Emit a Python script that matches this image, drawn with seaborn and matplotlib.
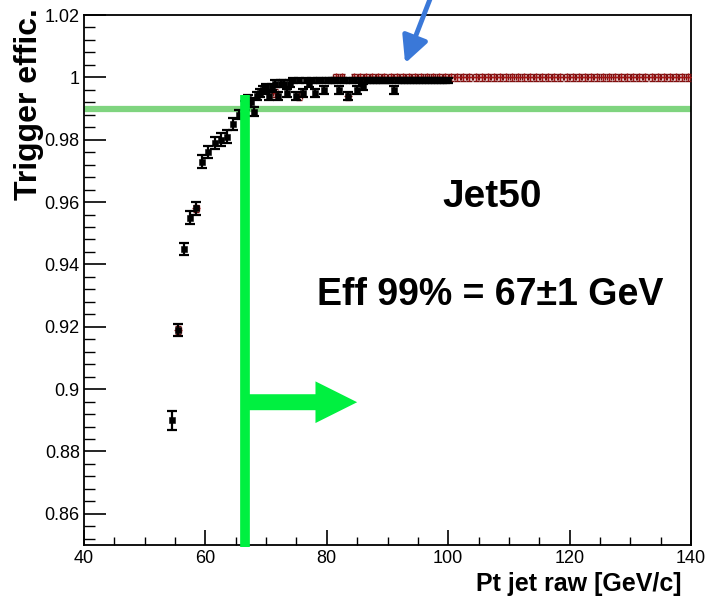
import numpy as np
import pandas as pd
import matplotlib
matplotlib.use("Agg")
import matplotlib.pyplot as plt
from matplotlib.ticker import MultipleLocator, FixedLocator
import seaborn as sns

# ---------------- data ----------------
black_pt = [54.5, 55.5, 56.5, 57.5, 58.5, 59.5, 60.5, 61.5, 62.5, 63.5,
            64.5, 65.5, 66.5, 67.0, 67.5, 68.0, 68.5, 69.0, 69.5, 70.0,
            70.5, 71.0, 71.5, 72.0, 72.5, 73.0, 73.5, 74.0, 74.5, 75.0,
            75.5, 76.0, 76.5, 77.0, 77.5, 78.0, 78.5, 79.0, 79.5, 80.0,
            80.5, 81.0, 81.5, 82.0, 82.5, 83.0, 83.5, 84.0, 84.5, 85.0,
            85.5, 86.0, 86.5, 87.0, 87.5, 88.0, 88.5, 89.0, 89.5, 90.0,
            90.5, 91.0, 91.5, 92.0, 92.5, 93.0, 93.5, 94.0, 94.5, 95.0,
            95.5, 96.0, 96.5, 97.0, 97.5, 98.0, 98.5, 99.0, 99.5, 100.0]
black_eff = [0.890, 0.919, 0.945, 0.955, 0.958, 0.973, 0.976, 0.979, 0.980, 0.981,
             0.985, 0.988, 0.991, 0.993, 0.992, 0.989, 0.994, 0.995, 0.996, 0.997,
             0.994, 0.997, 0.998, 0.994, 0.998, 0.998, 0.995, 0.998, 0.999, 0.994,
             0.999, 0.995, 0.999, 0.998, 0.999, 0.995, 0.999, 0.999, 0.996, 0.999,
             0.999, 0.999, 0.999, 0.996, 0.999, 0.999, 0.994, 0.999, 0.999, 0.996,
             0.999, 0.997, 0.999, 0.999, 0.999, 0.999, 0.999, 0.999, 0.999, 0.999,
             0.999, 0.996, 0.999, 0.999, 0.999, 0.999, 0.999, 0.999, 0.999, 0.999,
             0.999, 0.999, 0.999, 0.999, 0.999, 0.999, 0.999, 0.999, 0.999, 0.999]
black_err = [0.003, 0.002, 0.002, 0.002, 0.002, 0.002, 0.002, 0.002, 0.002, 0.002,
             0.002, 0.0015, 0.0015, 0.0015, 0.0015, 0.0015, 0.0012, 0.0012, 0.0012, 0.001,
             0.0012, 0.001, 0.001, 0.0012, 0.001, 0.001, 0.0012, 0.001, 0.0008, 0.0012,
             0.0008, 0.0012, 0.0008, 0.001, 0.0008, 0.0012, 0.0008, 0.0008, 0.0012, 0.0008,
             0.0008, 0.0008, 0.0008, 0.0012, 0.0008, 0.0008, 0.0012, 0.0008, 0.0008, 0.0012,
             0.0008, 0.001, 0.0008, 0.0008, 0.0008, 0.0008, 0.0008, 0.0008, 0.0008, 0.0008,
             0.0008, 0.0012, 0.0008, 0.0008, 0.0008, 0.0008, 0.0008, 0.0008, 0.0008, 0.0008,
             0.0008, 0.0008, 0.0008, 0.0008, 0.0008, 0.0008, 0.0008, 0.0008, 0.0008, 0.0008]

red_pt = [55.5, 58.5, 71.5, 75.5, 81.5, 82.5, 83.5, 84.5, 85.5, 86.5, 87.5, 88.5,
          89.5, 90.5, 91.5, 92.5, 93.5, 94.5, 95.5, 96.5, 97.5, 98.5, 99.5,
          100.5, 101.5, 102.5, 103.5, 104.5, 105.5, 106.5, 107.5, 108.5, 109.5,
          110.5, 111.5, 112.5, 113.5, 114.5, 115.5, 116.5, 117.5, 118.5, 119.5,
          120.5, 121.5, 122.5, 123.5, 124.5, 125.5, 126.5, 127.5, 128.5, 129.5,
          130.5, 131.5, 132.5, 133.5, 134.5, 135.5, 136.5, 137.5, 138.5, 139.5]
red_eff = [0.919, 0.958, 0.995, 0.994, 1.000, 1.000, 0.994, 1.000, 1.000, 1.000, 1.000, 1.000,
           1.000, 1.000, 1.000, 1.000, 1.000, 1.000, 1.000, 1.000, 1.000, 1.000, 1.000,
           1.000, 1.000, 1.000, 1.000, 1.000, 1.000, 1.000, 1.000, 1.000, 1.000,
           1.000, 1.000, 1.000, 1.000, 1.000, 1.000, 1.000, 1.000, 1.000, 1.000,
           1.000, 1.000, 1.000, 1.000, 1.000, 1.000, 1.000, 1.000, 1.000, 1.000,
           1.000, 1.000, 1.000, 1.000, 1.000, 1.000, 1.000, 1.000, 1.000, 1.000]

threshold_eff = 0.99
threshold_pt = 66.5
arrow_y = 0.8958
arrow_end = 85.0
blue_tip = (92.9, 1.0045)

x_ticks = [40, 60, 80, 100, 120, 140]
y_ticks = [0.86, 0.88, 0.9, 0.92, 0.94, 0.96, 0.98, 1.0, 1.02]
y_tick_labels = ["0.86", "0.88", "0.9", "0.92", "0.94", "0.96", "0.98", "1", "1.02"]

df_black = pd.DataFrame({"pt": black_pt, "eff": black_eff, "err": black_err})
df_red = pd.DataFrame({"pt": red_pt, "eff": red_eff})

# ---------------- plot ----------------
sns.set_style("ticks", {"xtick.direction": "in", "ytick.direction": "in"})
plt.rcParams["font.family"] = ["Liberation Sans", "DejaVu Sans"]
plt.rcParams["text.color"] = "black"
plt.rcParams["axes.labelcolor"] = "black"
plt.rcParams["xtick.color"] = "black"
plt.rcParams["ytick.color"] = "black"

fig = plt.figure(figsize=(7.19, 6.02), dpi=100)
ax = fig.add_axes([84 / 719, 1 - 545 / 602, (691 - 84) / 719, (545 - 15) / 602])

# green threshold line
ax.axhline(threshold_eff, color="#7fd47f", lw=4.5, zorder=1)

# red series
ax.errorbar(df_red["pt"], df_red["eff"], yerr=0.0012, xerr=0.4, fmt="none",
            ecolor="#7a1010", elinewidth=1.0, capsize=2.5, capthick=1.0, zorder=3)
sns.scatterplot(data=df_red, x="pt", y="eff", ax=ax, marker="+", s=30,
                color="#a01515", linewidth=1.0, zorder=4, legend=False)

# black series
ax.errorbar(df_black["pt"], df_black["eff"], yerr=df_black["err"], fmt="none",
            ecolor="black", elinewidth=1.6, capsize=3.5, capthick=1.6, zorder=5)
sns.scatterplot(data=df_black, x="pt", y="eff", ax=ax, marker="s", s=22,
                color="black", edgecolor="black", zorder=6, legend=False)

# vertical green line
ax.plot([threshold_pt, threshold_pt], [0.8495, 0.9942], color="#00f040",
        lw=7, solid_capstyle="butt", zorder=7, clip_on=False)
# green arrow
ax.annotate("", xy=(arrow_end, arrow_y), xytext=(threshold_pt, arrow_y),
            arrowprops=dict(arrowstyle="simple,head_width=3.0,head_length=3.0,tail_width=1.15",
                            color="#00f040", lw=0, shrinkA=0, shrinkB=0), zorder=7)

# blue arrow
ax.annotate("", xy=blue_tip, xytext=(432 / 719, 1.01), textcoords="figure fraction",
            arrowprops=dict(arrowstyle="-|>,head_width=0.8,head_length=1.6",
                            color="#3a78d8", lw=3.5, shrinkA=0, shrinkB=0),
            annotation_clip=False, zorder=8)

# texts
ax.text(107.2, 0.9616, "Jet50", fontsize=28, fontweight="bold", ha="center", va="center",
        color="black")
ax.text(106.9, 0.9303, "Eff 99% = 67\u00b11 GeV", fontsize=27, fontweight="bold",
        ha="center", va="center", color="black")

# axes
ax.set_xlim(40, 140)
ax.set_ylim(0.85, 1.02)
ax.xaxis.set_major_locator(FixedLocator(x_ticks))
ax.xaxis.set_minor_locator(MultipleLocator(5))
ax.set_yticks(y_ticks)
ax.set_yticklabels(y_tick_labels)
ax.yaxis.set_minor_locator(MultipleLocator(0.004))
ax.tick_params(axis="both", which="major", labelsize=13, width=1.2, color="black",
               labelcolor="black")
ax.tick_params(axis="y", which="major", length=16, pad=3)
ax.tick_params(axis="y", which="minor", length=8, width=1.0)
ax.tick_params(axis="x", which="major", length=11)
ax.tick_params(axis="x", which="minor", length=6, width=1.0)
ax.tick_params(top=False, right=False, which="both")
for s in ax.spines.values():
    s.set_linewidth(1.3)
    s.set_color("black")

ax.set_xlabel("Pt jet raw [GeV/c]", fontsize=18, fontweight="bold", loc="right", color="black")
ax.set_ylabel("Trigger effic.", fontsize=23, fontweight="bold", loc="top", color="black")
ax.xaxis.set_label_coords((682 - 84) / 607, -(572 - 545) / 530)
ax.yaxis.set_label_coords(-(84 - 44) / 607, 1 + 7 / 530)

fig.savefig("out.png", dpi=100)
